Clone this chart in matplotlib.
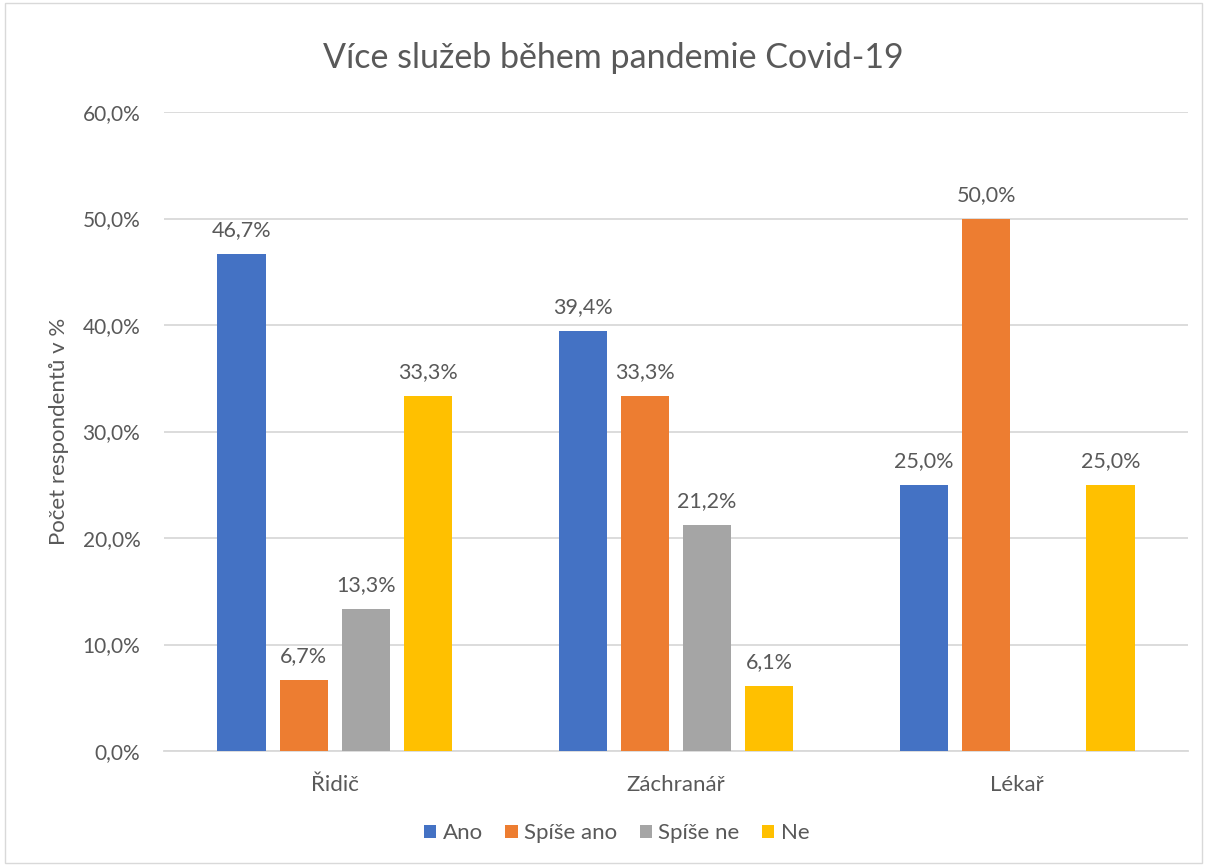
import numpy as np
import matplotlib.pyplot as plt
from matplotlib.patches import Rectangle

plt.rcParams['font.family'] = ['Lato', 'DejaVu Sans']

categories = ["Řidič", "Záchranář", "Lékař"]
series_names = ["Ano", "Spíše ano", "Spíše ne", "Ne"]
ano = [46.7, 39.4, 25.0]
spise_ano = [6.7, 33.3, 50.0]
spise_ne = [13.3, 21.2, np.nan]
ne = [33.3, 6.1, 25.0]
yticks = [0, 10, 20, 30, 40, 50, 60]

colors = ["#4472C4", "#ED7D31", "#A5A5A5", "#FFC000"]
text_color = "#595959"

fig = plt.figure(figsize=(12.07, 8.66), dpi=100)
ax = fig.add_axes([164 / 1207, 115 / 866, 1024 / 1207, 639 / 866])

# light frame around the whole chart
fig.patches.append(Rectangle((0.004, 0.004), 0.992, 0.992, transform=fig.transFigure,
                             fill=False, edgecolor="#D9D9D9", linewidth=1))

xpos = np.arange(len(categories))
step = 0.182
width = 0.141
all_series = [ano, spise_ano, spise_ne, ne]
for i, (name, vals) in enumerate(zip(series_names, all_series)):
    offs = xpos + (i - 1.5) * step
    vals = np.array(vals, dtype=float)
    ax.bar(offs, np.nan_to_num(vals), width=width, color=colors[i], label=name, zorder=3)
    for x, v in zip(offs, vals):
        if not np.isnan(v):
            ax.text(x, v + 1.3, f"{v:.1f}%".replace(".", ","), ha="center", va="bottom",
                    fontsize=15.5, color=text_color)

ax.set_xlim(-0.5, 2.5)
ax.set_ylim(0, 60)
ax.set_yticks(yticks)
ax.set_yticklabels([f"{t:.1f}%".replace(".", ",") for t in yticks], fontsize=15, color=text_color)
ax.set_xticks(xpos)
ax.set_xticklabels(categories, fontsize=16, color=text_color)
ax.tick_params(axis="both", length=0)
ax.tick_params(axis="x", pad=17)
ax.tick_params(axis="y", pad=17)
ax.grid(axis="y", color="#D9D9D9", linewidth=1.3, zorder=0)
for s in ["top", "right", "left"]:
    ax.spines[s].set_visible(False)
ax.spines["bottom"].set_color("#D9D9D9")
ax.spines["bottom"].set_linewidth(1.3)

ax.set_ylabel("Počet respondentů v %", fontsize=16, color=text_color, labelpad=10)
fig.text(0.508, 0.933, "Více služeb během pandemie Covid-19", ha="center", va="center",
         fontsize=24.5, color=text_color)

fig.legend(loc="center", bbox_to_anchor=(0.511, 0.038), ncol=4, frameon=False,
           fontsize=16, labelcolor=text_color, handlelength=0.55, handleheight=0.55,
           handletextpad=0.3, columnspacing=1.0)

fig.savefig("out.png", dpi=100)
